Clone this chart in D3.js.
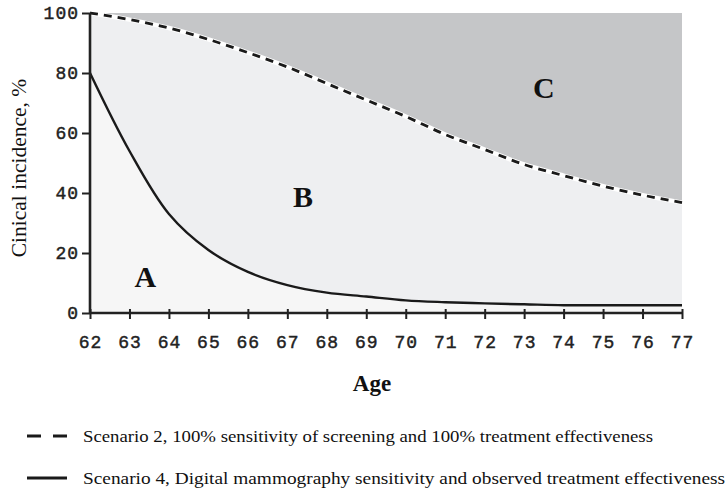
<!DOCTYPE html>
<html>
<head>
<meta charset="utf-8">
<script src="https://cdn.jsdelivr.net/npm/d3@7"></script>
<style>
  body { margin: 0; background: #fff; }
  .tick-label { font-family: 'Liberation Mono', monospace; font-size: 18px; fill: #222; stroke: #222; stroke-width: 0.45px; letter-spacing: 1px; }
  .serif { font-family: 'Liberation Serif', serif; fill: #111; }
</style>
</head>
<body>
<div class="chart"></div>
<script>
'use strict';

const ages = [62, 63, 64, 65, 66, 67, 68, 69, 70, 71, 72, 73, 74, 75, 76, 77];
// scenario 2: 100% sensitivity, 100% treatment effectiveness (dashed)
const scenario2 = [100, 97.8, 95, 91.2, 86.8, 82, 76.5, 71, 65.5, 59.5, 54.5, 49.5, 45.8, 42.3, 39.3, 36.8];
// scenario 4: digital mammography sensitivity, observed effectiveness (solid)
const scenario4 = [80, 54, 33, 21, 13.7, 9.3, 6.8, 5.5, 4.2, 3.6, 3.2, 2.9, 2.6, 2.6, 2.6, 2.6];
const yTicks = [0, 20, 40, 60, 80, 100];
const regionLabels = [
    {name: 'A', age: 63.4, value: 11},
    {name: 'B', age: 67.4, value: 37.5},
    {name: 'C', age: 73.5, value: 74}
];
const legendItems = [
    {dash: '14,12', text: 'Scenario 2, 100% sensitivity of screening and 100% treatment effectiveness', len: 570},
    {dash: null, text: 'Scenario 4, Digital mammography sensitivity and observed treatment effectiveness', len: 642}
];

const width = 727;
const height = 489;
const margin = {top: 13, right: 45, bottom: 176, left: 90};

const svg = d3.select('.chart')
    .append('svg')
    .attr('width', width)
    .attr('height', height);

const x = d3.scaleLinear().domain([62, 77]).range([margin.left, width - margin.right]);
const y = d3.scaleLinear().domain([0, 100]).range([height - margin.bottom, margin.top]);

const data = ages.map((a, i) => ({age: a, s2: scenario2[i], s4: scenario4[i]}));
const curve2 = d3.curveMonotoneX;
const curve4 = d3.curveCatmullRom.alpha(0.5);

// region C: above dashed line
svg.append('path')
    .datum(data)
    .attr('fill', '#c5c6c8')
    .attr('d', d3.area().curve(curve2).x(d => x(d.age)).y0(y(100)).y1(d => y(d.s2)));

// region B: everything under the dashed line
svg.append('path')
    .datum(data)
    .attr('fill', '#eeeff1')
    .attr('d', d3.area().curve(curve2).x(d => x(d.age)).y0(y(0)).y1(d => y(d.s2)));

// region A: below solid line
svg.append('path')
    .datum(data)
    .attr('fill', '#f6f6f6')
    .attr('d', d3.area().curve(curve4).x(d => x(d.age)).y0(y(0)).y1(d => y(d.s4)));

const line2 = d3.line().curve(curve2).x(d => x(d.age)).y(d => y(d.s2));
const line4 = d3.line().curve(curve4).x(d => x(d.age)).y(d => y(d.s4));

// white halo under the dashed line
svg.append('path')
    .datum(data)
    .attr('fill', 'none')
    .attr('stroke', '#fff')
    .attr('stroke-width', 4.5)
    .attr('d', line2);

svg.append('path')
    .datum(data)
    .attr('fill', 'none')
    .attr('stroke', '#1a1a1a')
    .attr('stroke-width', 2.8)
    .attr('stroke-dasharray', '8,6')
    .attr('d', line2);

svg.append('path')
    .datum(data)
    .attr('fill', 'none')
    .attr('stroke', '#1a1a1a')
    .attr('stroke-width', 2.4)
    .attr('d', line4);

// axes
const xAxis = svg.append('g')
    .attr('transform', 'translate(0,' + y(0) + ')')
    .call(d3.axisBottom(x).tickValues(ages).tickSize(6).tickFormat(d3.format('d')));
xAxis.select('.domain').attr('stroke', '#222').attr('stroke-width', 2.6).attr('d', 'M' + x(62) + ',0H' + x(77));
xAxis.selectAll('.tick line').attr('stroke', '#222').attr('stroke-width', 2).attr('y1', -4).attr('y2', 6);
xAxis.selectAll('.tick text').attr('class', 'tick-label').attr('y', 22).attr('dy', '0.71em').attr('font-family', null).attr('font-size', null);

const yAxis = svg.append('g')
    .attr('transform', 'translate(' + x(62) + ',0)')
    .call(d3.axisLeft(y).tickValues(yTicks).tickSize(8));
yAxis.select('.domain').attr('stroke', '#222').attr('stroke-width', 2.6).attr('d', 'M0,' + y(0) + 'V' + y(100));
yAxis.selectAll('.tick line').attr('stroke', '#222').attr('stroke-width', 2);
yAxis.selectAll('.tick text').attr('class', 'tick-label').attr('x', -11).attr('font-family', null).attr('font-size', null);

// region letters
svg.selectAll('.region')
    .data(regionLabels)
    .enter().append('text')
    .attr('class', 'serif')
    .attr('x', d => x(d.age))
    .attr('y', d => y(d.value))
    .attr('text-anchor', 'middle')
    .attr('dominant-baseline', 'middle')
    .style('font-size', '30px')
    .style('font-weight', 'bold')
    .text(d => d.name);

// axis titles
svg.append('text')
    .attr('class', 'serif')
    .attr('transform', 'translate(26,168) rotate(-90)')
    .attr('text-anchor', 'middle')
    .style('font-size', '21.5px')
    .text('Cinical incidence, %');

svg.append('text')
    .attr('class', 'serif')
    .attr('x', 372)
    .attr('y', 391)
    .attr('text-anchor', 'middle')
    .style('font-size', '23px')
    .style('font-weight', 'bold')
    .text('Age');

// legend
const legend = svg.selectAll('.legend')
    .data(legendItems)
    .enter().append('g')
    .attr('transform', (d, i) => 'translate(0,' + (436 + i * 42) + ')');

legend.append('line')
    .attr('x1', 27).attr('x2', 67)
    .attr('stroke', '#1a1a1a')
    .attr('stroke-width', 2.8)
    .attr('stroke-dasharray', d => d.dash);

legend.append('text')
    .attr('class', 'serif')
    .attr('x', 83)
    .attr('y', 5.5)
    .attr('textLength', d => d.len)
    .attr('lengthAdjust', 'spacingAndGlyphs')
    .style('font-size', '17px')
    .text(d => d.text);
</script>
</body>
</html>
